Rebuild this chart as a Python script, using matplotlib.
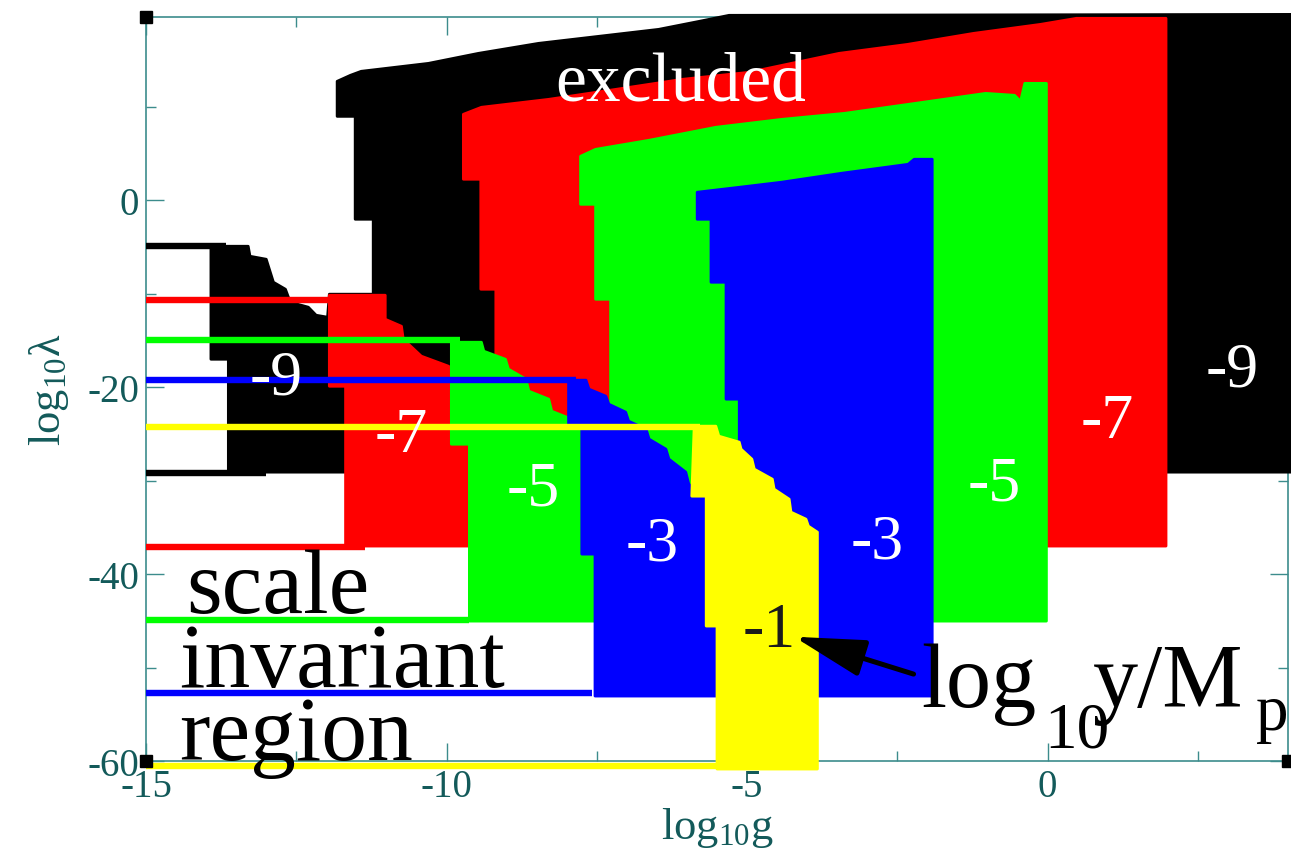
import matplotlib
matplotlib.use("Agg")
import matplotlib.pyplot as plt

plt.rcParams['font.family'] = 'Liberation Serif'
plt.rcParams['mathtext.fontset'] = 'custom'
plt.rcParams['mathtext.rm'] = 'Liberation Serif'
plt.rcParams['mathtext.it'] = 'Liberation Serif:italic'
plt.rcParams['axes.unicode_minus'] = False

# allowed regions in (log10 g, log10 lambda) for log10 y/Mp = -9, -7, -5, -3, -1
black_g = [-11.82, -11.82, -11.6, -11.42, -10.3, -9.47, -8.47, -7.47, -6.47, -5.8, -5.3, 4.1,
           4.1, -13.63, -13.63, -13.92, -13.92, -13.3, -13.27, -13.0, -12.88, -12.68, -12.6,
           -12.3, -12.17, -11.98, -11.95, -11.22, -11.22, -11.52, -11.52]
black_lam = [8.98, 12.73, 13.37, 13.8, 14.65, 15.72, 16.79, 17.54, 18.29, 19.14, 19.79, 19.89,
             -29.09, -29.09, -17.01, -17.01, -4.92, -4.92, -5.99, -6.31, -8.77, -9.52, -10.91,
             -11.44, -12.3, -12.51, -10.05, -10.05, -2.03, -2.03, 8.98]

red_g = [-9.72, -9.42, -8.3, -7.18, -6.08, -4.97, -3.47, -2.33, -1.23, -0.12, 0.48, 1.97,
         1.97, -11.68, -11.68, -11.95, -11.95, -11.02, -11.02, -10.75, -10.72, -10.42, -9.97,
         -9.8, -9.18, -9.18, -9.43, -9.43, -9.72]
red_lam = [9.2, 9.95, 10.8, 11.87, 12.94, 13.69, 15.72, 16.68, 17.86, 18.82, 19.47, 19.47,
           -37.0, -37.0, -19.9, -19.9, -10.16, -10.16, -12.73, -13.48, -14.87, -16.68, -17.75,
           -18.61, -18.61, -9.52, -9.52, 2.25, 2.25]

green_g = [-7.77, -7.52, -6.63, -5.52, -4.42, -3.38, -2.2, -1.03, -0.55, -0.45, -0.38, -0.02,
           -0.02, -9.62, -9.62, -9.92, -9.92, -9.42, -9.38, -9.02, -8.97, -8.68, -8.63, -8.3,
           -8.25, -7.92, -7.27, -7.27, -7.52, -7.52, -7.77]
green_lam = [4.71, 5.45, 6.42, 7.81, 8.66, 9.3, 10.37, 11.44, 11.23, 10.59, 12.51, 12.51,
             -45.03, -45.03, -26.1, -26.1, -15.19, -15.19, -16.15, -17.01, -18.07, -19.14,
             -20.43, -21.28, -22.57, -23.42, -23.42, -10.59, -10.59, -0.43, -0.43]

blue_g = [-5.83, -5.13, -4.43, -3.43, -2.32, -2.22, -1.92, -1.92, -7.53, -7.53, -7.75, -7.75,
          -7.97, -7.97, -7.68, -7.63, -7.35, -7.3, -7.02, -6.97, -6.68, -6.63, -6.35, -6.3,
          -6.02, -5.97, -5.8, -5.13, -5.13, -5.35, -5.35, -5.6, -5.6, -5.83]
blue_lam = [0.86, 1.39, 1.93, 2.89, 3.85, 4.39, 4.39, -53.05, -53.05, -37.86, -37.86, -23.96,
            -23.96, -19.25, -19.25, -20.21, -20.96, -21.82, -22.67, -23.64, -24.49, -25.56,
            -26.63, -27.7, -29.09, -30.37, -31.44, -31.44, -21.28, -21.28, -8.77, -8.77,
            -2.03, -2.03]

yellow_g = [-5.88, -5.52, -5.47, -5.13, -5.1, -4.92, -4.88, -4.58, -4.55, -4.3, -4.27, -4.02,
            -3.98, -3.83, -3.83, -5.5, -5.5, -5.68, -5.68, -5.92]
yellow_lam = [-24.17, -24.17, -25.24, -25.88, -26.63, -27.7, -28.77, -29.84, -30.91, -31.98,
              -33.37, -34.12, -34.87, -35.51, -60.86, -60.86, -45.56, -45.56, -31.66, -31.66]

region_colors = ['#000000', '#ff0000', '#00ff00', '#0000ff', '#ffff00']

# labels of log10 y/Mp inside the regions
label_text = ['-9', '-9', '-7', '-7', '-5', '-5', '-3', '-3']
label_g = [-12.83, 3.07, -10.75, 0.99, -8.55, -0.88, -6.58, -2.83]
label_lam = [-19.1, -18.2, -25.2, -23.7, -30.9, -30.4, -36.8, -36.6]

# scale invariant region markers on the left
inv_lam = [-4.9, -29.2, -10.7, -37.1, -15.0, -44.9, -19.25, -52.7, -24.3, -60.5]
inv_gmax = [-13.67, -13.0, -11.93, -11.35, -9.78, -9.63, -7.85, -7.58, -5.78, -5.25]
inv_colors = ['#000000', '#000000', '#ff0000', '#ff0000', '#00ff00', '#00ff00',
              '#0000ff', '#0000ff', '#ffff00', '#ffff00']

xlim = (-15, 4.0)
ylim = (-60, 19.6)
axis_col = '#3c8c8c'
tick_col = '#135a5a'

fig = plt.figure(figsize=(12.91, 8.62), dpi=100)
ax = fig.add_axes([0.1131, 0.116, 0.8846, 0.863])

regions = [(black_g, black_lam), (red_g, red_lam), (green_g, green_lam),
           (blue_g, blue_lam), (yellow_g, yellow_lam)]
for (gx, gy), c in zip(regions, region_colors):
    ax.fill(gx, gy, color=c, ec=c, lw=2, joinstyle='round', zorder=3, clip_on=False)

for y, xe, c in zip(inv_lam, inv_gmax, inv_colors):
    ax.plot([xlim[0], xe], [y, y], color=c, lw=4.6, solid_capstyle='butt', zorder=4, clip_on=False)

for t, x, y in zip(label_text, label_g, label_lam):
    ax.text(x, y, t, color='white', fontsize=46, ha='center', va='center', zorder=5)
ax.text(-4.63, -46.1, '-1', color='#1a1a1a', fontsize=46, ha='center', va='center', zorder=5)

ax.text(-6.1, 10.8, 'excluded', color='white', fontsize=50, ha='center', va='baseline', zorder=5)

ax.text(-14.33, -44.1, 'scale', fontsize=66, va='baseline', zorder=5)
ax.text(-14.45, -52.0, 'invariant', fontsize=66, va='baseline', zorder=5)
ax.text(-14.45, -59.8, 'region', fontsize=66, va='baseline', zorder=5)

ax.text(-2.1, -54.1, 'log', fontsize=65, va='baseline', zorder=5, clip_on=False)
ax.text(-0.05, -58.5, '10', fontsize=47, va='baseline', zorder=5, clip_on=False)
ax.text(0.75, -54.1, 'y/M', fontsize=65, va='baseline', zorder=5, clip_on=False)
ax.text(3.47, -56.6, 'p', fontsize=47, va='baseline', zorder=5, clip_on=False)

ax.annotate('', xy=(-4.22, -46.7), xytext=(-2.23, -50.7),
            arrowprops=dict(arrowstyle='-|>,head_length=0.88,head_width=0.23',
                            mutation_scale=50, lw=3.6, color='black',
                            shrinkA=0, shrinkB=0), zorder=5)

# little frame squares at the corners
ax.plot([xlim[0], xlim[0], xlim[1]], [ylim[1], ylim[0], ylim[0]], 's', color='black',
        ms=8, zorder=4, clip_on=False)

ax.set_xlim(*xlim)
ax.set_ylim(*ylim)
ax.set_xticks([-15, -10, -5, 0])
ax.set_xticks([-12.5, -7.5, -2.5, 2.5], minor=True)
ax.set_yticks([-60, -40, -20, 0])
ax.set_yticks([-50, -30, -10, 10], minor=True)
ax.tick_params(which='both', direction='in', top=True, right=True, colors=axis_col,
               labelcolor=tick_col, labelsize=28)
ax.tick_params(which='major', length=13, width=1.0, pad=5)
ax.tick_params(which='minor', length=7, width=1.0)
for s in ax.spines.values():
    s.set_color(axis_col)
    s.set_linewidth(1.2)

ax.set_xlabel(r'log$_{\mathrm{10}}$g', fontsize=32, color=tick_col, labelpad=0)
ax.set_ylabel(r'log$_{\mathrm{10}}$λ', fontsize=32, color=tick_col, labelpad=12)

plt.savefig('out.png', dpi=100)
